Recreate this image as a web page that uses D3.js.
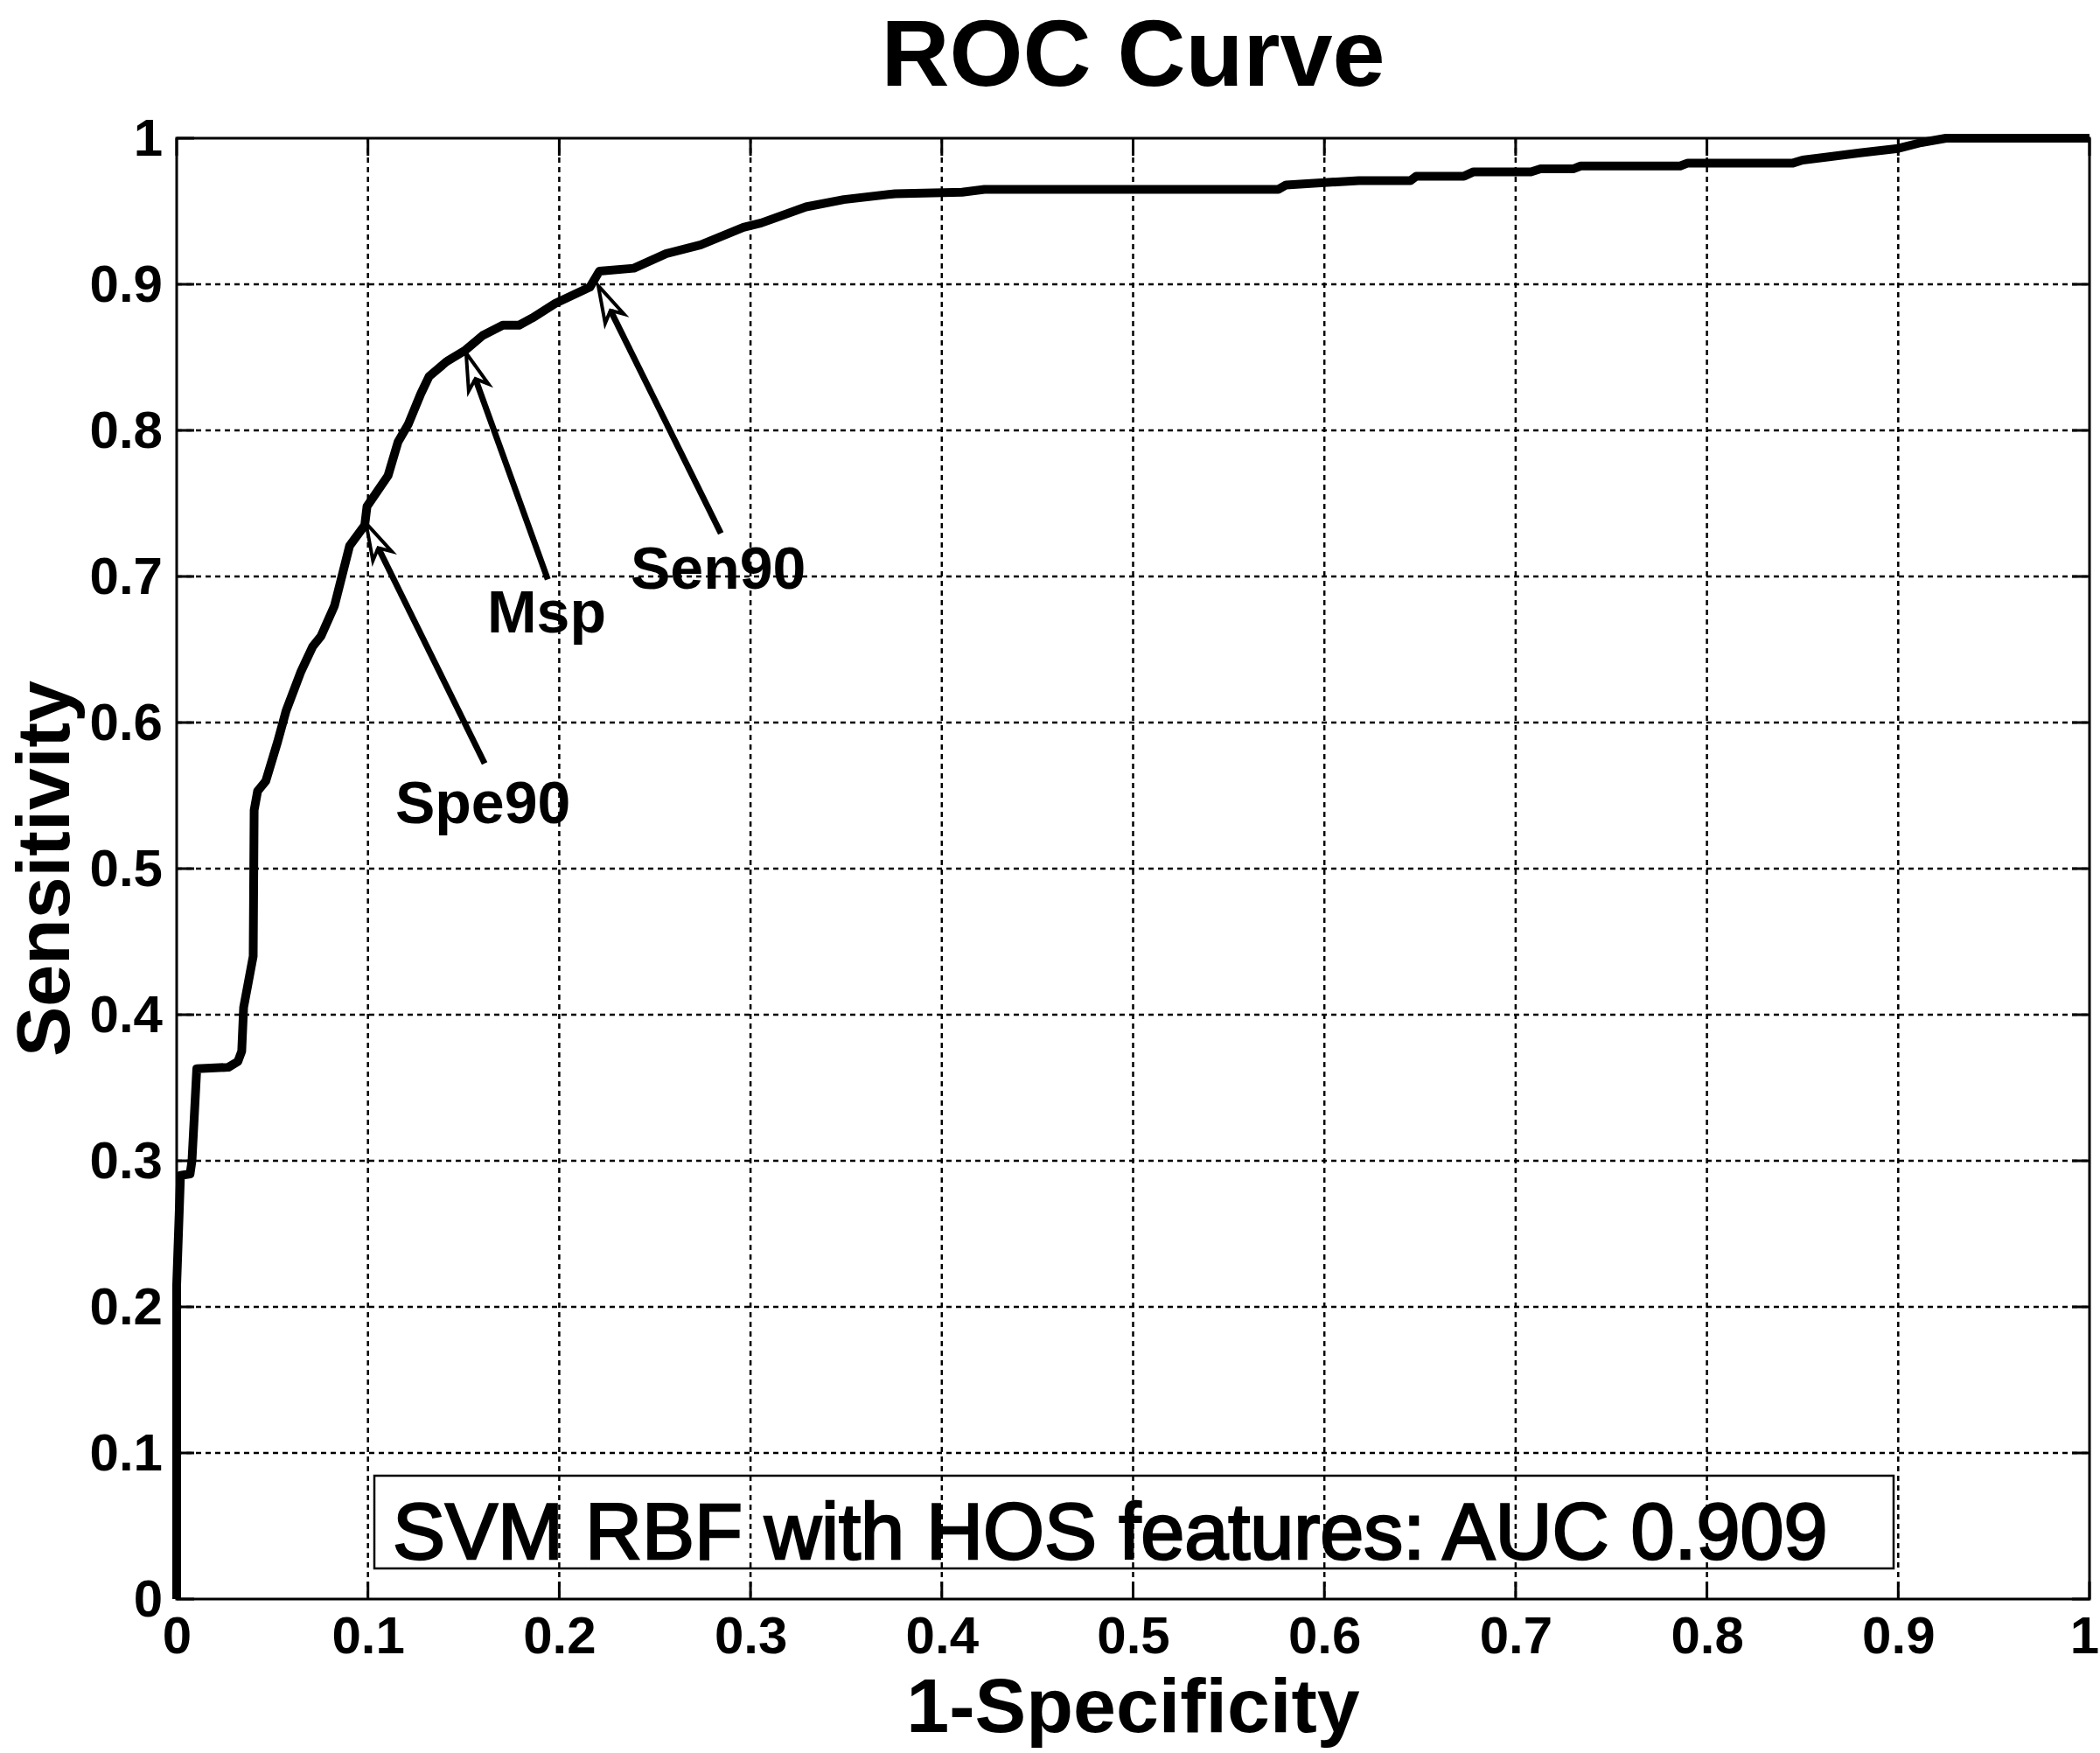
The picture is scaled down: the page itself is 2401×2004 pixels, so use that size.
<!DOCTYPE html>
<html>
<head>
<meta charset="utf-8">
<script src="https://cdn.jsdelivr.net/npm/d3@7"></script>
<style>
    body { margin: 0; background: #fff; }
    svg { display: block; }
    text { font-family: "Liberation Sans", Arial, sans-serif; fill: #000; }
</style>
</head>
<body>
<div id="app"></div>
<script>
"use strict";

// ROC curve: 1-specificity (fpr) and sensitivity (tpr)
const fpr = [0, 0, 0.002, 0.007, 0.008, 0.0105, 0.027, 0.032, 0.034, 0.035, 0.040, 0.0405, 0.0423, 0.0466,
    0.0528, 0.0572, 0.065, 0.0711, 0.0754, 0.0825, 0.0904, 0.0983, 0.0995, 0.1105, 0.1157, 0.121, 0.1276,
    0.132, 0.141, 0.151, 0.160, 0.1705, 0.179, 0.186, 0.198, 0.216, 0.221, 0.239, 0.256, 0.274, 0.2963,
    0.3056, 0.329, 0.3488, 0.3756, 0.4106, 0.4223, 0.576, 0.58, 0.618, 0.645, 0.648, 0.673, 0.678, 0.708,
    0.713, 0.730, 0.734, 0.786, 0.790, 0.845, 0.850, 0.862, 0.880, 0.900, 0.912, 0.925, 1.0];
const tpr = [0, 0.215, 0.29, 0.291, 0.30, 0.363, 0.364, 0.368, 0.375, 0.405, 0.44, 0.54, 0.553, 0.56,
    0.587, 0.608, 0.635, 0.652, 0.659, 0.68, 0.721, 0.735, 0.748, 0.769, 0.792, 0.804, 0.825,
    0.837, 0.847, 0.855, 0.865, 0.872, 0.872, 0.877, 0.887, 0.898, 0.909, 0.911, 0.921, 0.927, 0.939,
    0.942, 0.953, 0.958, 0.962, 0.963, 0.965, 0.965, 0.968, 0.971, 0.971, 0.974, 0.974, 0.977, 0.977,
    0.979, 0.979, 0.981, 0.981, 0.983, 0.983, 0.985, 0.987, 0.990, 0.993, 0.997, 1.0, 1.0];

const tickValues = [0, 0.1, 0.2, 0.3, 0.4, 0.5, 0.6, 0.7, 0.8, 0.9, 1];
const tickLabels = ["0", "0.1", "0.2", "0.3", "0.4", "0.5", "0.6", "0.7", "0.8", "0.9", "1"];

// operating points marked with arrows
const markNames = ["Spe90", "Msp", "Sen90"];
const markTipX = [0.099, 0.1513, 0.2204];
const markTipY = [0.7365, 0.853, 0.899];
const markTailX = [0.161, 0.194, 0.2845];
const markTailY = [0.572, 0.698, 0.7295];
const markLabelX = [0.1143, 0.1623, 0.2373];
const markLabelY = [0.5309, 0.6617, 0.6916];

const titleText = "ROC Curve";
const xLabelText = "1-Specificity";
const yLabelText = "Sensitivity";
const legendText = "SVM RBF with HOS features: AUC 0.909";

const W = 2401, H = 2004;
const plot = { left: 202, right: 2389, top: 158, bottom: 1828 };

function drawChart() {
    const svg = d3.select("#app").append("svg")
        .attr("width", W)
        .attr("height", H);

    svg.append("rect").attr("width", W).attr("height", H).attr("fill", "#fff");

    const x = d3.scaleLinear().domain([0, 1]).range([plot.left, plot.right]);
    const y = d3.scaleLinear().domain([0, 1]).range([plot.bottom, plot.top]);

    // dashed grid
    const grid = svg.append("g")
        .attr("stroke", "#000")
        .attr("stroke-width", 2.5)
        .attr("stroke-dasharray", "6,5");
    grid.selectAll("line.gx")
        .data(tickValues.slice(1, -1))
        .enter().append("line")
        .attr("class", "gx")
        .attr("x1", d => x(d)).attr("x2", d => x(d))
        .attr("y1", plot.top).attr("y2", plot.bottom);
    grid.selectAll("line.gy")
        .data(tickValues.slice(1, -1))
        .enter().append("line")
        .attr("class", "gy")
        .attr("x1", plot.left).attr("x2", plot.right)
        .attr("y1", d => y(d)).attr("y2", d => y(d));

    // axes (labels only, ticks drawn inward below)
    const xAxis = d3.axisBottom(x)
        .tickValues(tickValues)
        .tickFormat((d, i) => tickLabels[i])
        .tickSize(0)
        .tickPadding(19);
    const yAxis = d3.axisLeft(y)
        .tickValues(tickValues)
        .tickFormat((d, i) => tickLabels[i])
        .tickSize(0)
        .tickPadding(16);

    const gx = svg.append("g").attr("transform", `translate(0,${plot.bottom})`).call(xAxis);
    const gy = svg.append("g").attr("transform", `translate(${plot.left},0)`).call(yAxis);
    for (let g of [gx, gy]) {
        g.select(".domain").remove();
        g.selectAll("text")
            .attr("font-size", 60)
            .attr("font-weight", "bold")
            .attr("font-family", "'Liberation Sans', Arial, sans-serif")
            .attr("fill", "#000");
    }
    // last x label sits right on the window edge
    gx.selectAll("text").filter(d => d === 1).attr("dx", -6);

    // inward tick marks on all four sides
    const ticks = svg.append("g").attr("stroke", "#000").attr("stroke-width", 3);
    const tl = 20;
    for (let v of tickValues) {
        ticks.append("line").attr("x1", x(v)).attr("x2", x(v)).attr("y1", plot.bottom).attr("y2", plot.bottom - tl);
        ticks.append("line").attr("x1", x(v)).attr("x2", x(v)).attr("y1", plot.top).attr("y2", plot.top + tl);
        ticks.append("line").attr("x1", plot.left).attr("x2", plot.left + tl).attr("y1", y(v)).attr("y2", y(v));
        ticks.append("line").attr("x1", plot.right).attr("x2", plot.right - tl).attr("y1", y(v)).attr("y2", y(v));
    }

    // box
    svg.append("rect")
        .attr("x", plot.left).attr("y", plot.top)
        .attr("width", plot.right - plot.left).attr("height", plot.bottom - plot.top)
        .attr("fill", "none").attr("stroke", "#000").attr("stroke-width", 3);

    // the curve
    const pts = fpr.map((f, i) => [f, tpr[i]]);
    const line = d3.line().x(d => x(d[0])).y(d => y(d[1]));
    svg.append("path")
        .datum(pts)
        .attr("d", line)
        .attr("fill", "none")
        .attr("stroke", "#000")
        .attr("stroke-width", 10)
        .attr("stroke-linejoin", "round");

    // arrows + labels
    const headLen = 42, headW = 12;
    markNames.forEach((name, i) => {
        const tx = x(markTipX[i]), ty = y(markTipY[i]);
        const sx = x(markTailX[i]), sy = y(markTailY[i]);
        const ang = Math.atan2(ty - sy, tx - sx);
        const ux = Math.cos(ang), uy = Math.sin(ang);
        const bx = tx - ux * headLen, by = ty - uy * headLen;
        const nx = tx - ux * headLen * 0.75, ny = ty - uy * headLen * 0.75;
        svg.append("line")
            .attr("x1", sx).attr("y1", sy)
            .attr("x2", nx).attr("y2", ny)
            .attr("stroke", "#000").attr("stroke-width", 7);
        svg.append("path")
            .attr("d", `M${tx},${ty}L${bx - uy * headW},${by + ux * headW}L${nx},${ny}L${bx + uy * headW},${by - ux * headW}Z`)
            .attr("fill", "none")
            .attr("stroke", "#000")
            .attr("stroke-width", 4)
            .attr("stroke-linejoin", "miter");
        svg.append("text")
            .attr("x", x(markLabelX[i]))
            .attr("y", y(markLabelY[i]))
            .attr("font-size", 68)
            .attr("font-weight", "bold")
            .text(name);
    });

    // legend-like text box
    svg.append("rect")
        .attr("x", 428).attr("y", 1687)
        .attr("width", 2165 - 428).attr("height", 1793 - 1687)
        .attr("fill", "none").attr("stroke", "#000").attr("stroke-width", 2.5);
    svg.append("text")
        .attr("x", 449).attr("y", 1782)
        .attr("font-size", 90)
        .attr("stroke", "#000").attr("stroke-width", 2.5)
        .text(legendText);

    // titles
    const cx = (plot.left + plot.right) / 2;
    svg.append("text")
        .attr("x", cx).attr("y", 98)
        .attr("text-anchor", "middle")
        .attr("font-size", 108)
        .attr("font-weight", "bold")
        .text(titleText);
    svg.append("text")
        .attr("x", cx).attr("y", 1980)
        .attr("text-anchor", "middle")
        .attr("font-size", 88)
        .attr("font-weight", "bold")
        .text(xLabelText);
    svg.append("text")
        .attr("transform", `translate(79,${(plot.top + plot.bottom) / 2}) rotate(-90)`)
        .attr("text-anchor", "middle")
        .attr("font-size", 86)
        .attr("font-weight", "bold")
        .text(yLabelText);
}

drawChart();
</script>
</body>
</html>
